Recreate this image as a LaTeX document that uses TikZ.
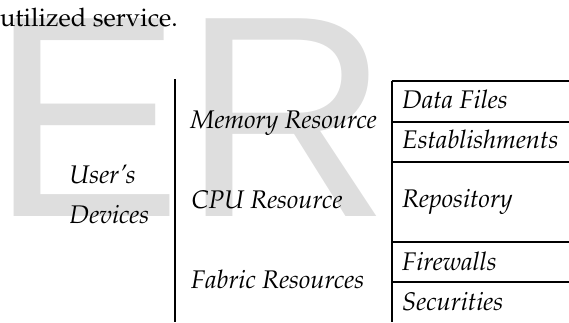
\documentclass[tikz,border=0pt]{standalone}
\usepackage{fontspec}
\newfontfamily\wmfont{Liberation Sans}
\usepackage[T1]{fontenc}
\usepackage{mathpazo}
\usetikzlibrary{positioning}
\definecolor{wmgray}{RGB}{222,222,222}
\tikzstyle{every node}=[font=\fontsize{10.2}{12}\selectfont]
\tikzstyle{wmark} = [inner sep=0pt, anchor=base west, text=wmgray, font=\wmfont\fontsize{115}{115}\selectfont]
\tikzstyle{plain} = [inner sep=0pt, anchor=base west]
\tikzstyle{item} = [inner sep=0pt, anchor=base west, font=\fontsize{10.2}{12}\selectfont\itshape]
\tikzstyle{tblrule} = [draw, line width=0.8pt]
\newcommand{\tblrow}[2]{
  \coordinate (#1-l) at (391.7,#2);
  \coordinate (#1-r) at (569,#2);
  \draw[tblrule] (#1-l) -- (#1-r);
}

\begin{document}
\begin{tikzpicture}[x=0.4pt, y=-0.4pt]
\useasboundingbox (0,0) rectangle (569,322);
% watermark behind everything
\node[wmark] (wm) at (-9.5,216.7) {ER};
\node[plain] (intro) at (-0.5,26.7) {utilized service.};

% left part
\node[item] (user) at (69,183.3) {User's};
\node[item] (dev) at (69,223.3) {Devices};
\coordinate (sep-t) at (175,79);
\coordinate (sep-b) at (175,322);
\draw[tblrule] (sep-t) -- (sep-b);

% resources
\node[item] (mem) at (190,128.3) {Memory Resource};
\node[item] (cpu) at (191,208.3) {CPU Resource};
\node[item] (fab) at (190.7,288.3) {Fabric Resources};

% table on the right
\coordinate (tbl-t) at (391.7,81);
\coordinate (tbl-b) at (391.7,322);
\draw[tblrule] (tbl-t) -- (tbl-b);
\tblrow{ra}{81}
\tblrow{rb}{121.7}
\tblrow{rc}{162}
\tblrow{rd}{242}
\tblrow{re}{282}
\node[item] (data) at (401.7,108) {Data Files};
\node[item] (est) at (401.7,148) {Establishments};
\node[item] (repo) at (401.7,207.5) {Repository};
\node[item] (fire) at (401.7,270) {Firewalls};
\node[item] (sec) at (401.7,310) {Securities};
\end{tikzpicture}
\end{document}
